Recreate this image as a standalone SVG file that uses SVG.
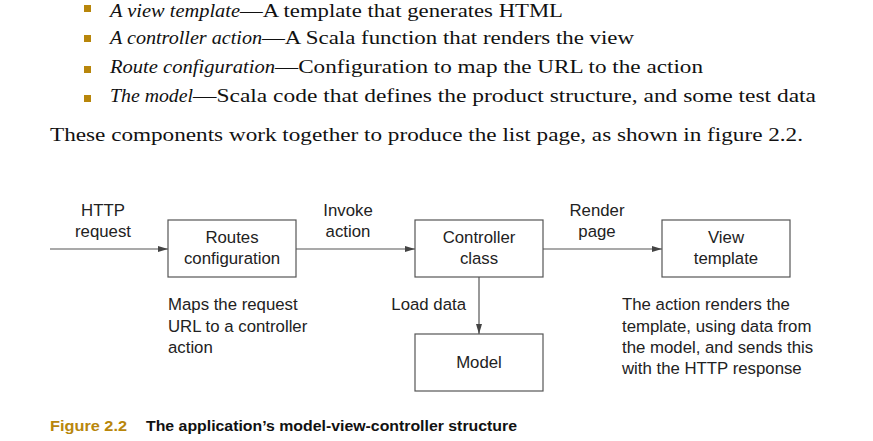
<svg xmlns="http://www.w3.org/2000/svg" width="873" height="441" viewBox="0 0 873 441">
<style>
.serif{font-family:"Liberation Serif","Times New Roman",serif;font-size:18px;fill:#111}
.it{font-style:italic}
.sans{font-family:"Liberation Sans",Arial,sans-serif;font-size:16.8px;fill:#222}
.box{fill:#fff;stroke:#555;stroke-width:1.2}
.conn{stroke:#555;stroke-width:1.2;fill:none}
.bul{fill:#b8860b}
.cap{font-family:"Liberation Sans",Arial,sans-serif;font-size:15px;font-weight:bold}
</style>
<defs>
<marker id="ah" viewBox="0 0 10 6" refX="10" refY="3" markerWidth="10" markerHeight="6" markerUnits="userSpaceOnUse" orient="auto">
<path d="M0,0 L10,3 L0,6 Z" fill="#444"/>
</marker>
</defs>
<rect width="873" height="441" fill="#fff"/>
<g id="intro">
<rect class="bul" x="84" y="5" width="7" height="7"/>
<rect class="bul" x="84" y="35" width="7" height="7"/>
<rect class="bul" x="84" y="66" width="7" height="7"/>
<rect class="bul" x="84" y="95" width="7" height="7"/>
<text class="serif it" x="110" y="16.5" textLength="130" lengthAdjust="spacingAndGlyphs">A view template</text>
<text class="serif" x="240" y="16.5" textLength="323" lengthAdjust="spacingAndGlyphs">—A template that generates HTML</text>
<text class="serif it" x="110" y="44" textLength="152" lengthAdjust="spacingAndGlyphs">A controller action</text>
<text class="serif" x="262" y="44" textLength="372" lengthAdjust="spacingAndGlyphs">—A Scala function that renders the view</text>
<text class="serif it" x="110" y="73" textLength="165" lengthAdjust="spacingAndGlyphs">Route configuration</text>
<text class="serif" x="275" y="73" textLength="428" lengthAdjust="spacingAndGlyphs">—Configuration to map the URL to the action</text>
<text class="serif it" x="110" y="102" textLength="83" lengthAdjust="spacingAndGlyphs">The model</text>
<text class="serif" x="193" y="102" textLength="623" lengthAdjust="spacingAndGlyphs">—Scala code that defines the product structure, and some test data</text>
<text class="serif" x="50" y="141" textLength="753" lengthAdjust="spacingAndGlyphs" style="font-size:19px">These components work together to produce the list page, as shown in figure 2.2.</text>
</g>
<g id="connectors">
<line class="conn" x1="50" y1="249" x2="168" y2="249" marker-end="url(#ah)"/>
<line class="conn" x1="296" y1="249" x2="415" y2="249" marker-end="url(#ah)"/>
<line class="conn" x1="543" y1="249" x2="662" y2="249" marker-end="url(#ah)"/>
<line class="conn" x1="479" y1="277" x2="479" y2="334" marker-end="url(#ah)"/>
<text class="sans" x="103" y="216" text-anchor="middle">HTTP</text>
<text class="sans" x="103" y="237" text-anchor="middle">request</text>
<text class="sans" x="348" y="216" text-anchor="middle">Invoke</text>
<text class="sans" x="348" y="237" text-anchor="middle">action</text>
<text class="sans" x="597" y="216" text-anchor="middle">Render</text>
<text class="sans" x="597" y="237" text-anchor="middle">page</text>
<text class="sans" x="466" y="310" text-anchor="end">Load data</text>
</g>
<g id="routes">
<rect class="box" x="168" y="220" width="128" height="57"/>
<text class="sans" x="232" y="243" text-anchor="middle">Routes</text>
<text class="sans" x="232" y="264" text-anchor="middle">configuration</text>
</g>
<g id="controller">
<rect class="box" x="415" y="220" width="128" height="57"/>
<text class="sans" x="479" y="243" text-anchor="middle">Controller</text>
<text class="sans" x="479" y="264" text-anchor="middle">class</text>
</g>
<g id="view">
<rect class="box" x="662" y="220" width="128" height="57"/>
<text class="sans" x="726" y="243" text-anchor="middle">View</text>
<text class="sans" x="726" y="264" text-anchor="middle">template</text>
</g>
<g id="model">
<rect class="box" x="415" y="334" width="128" height="57"/>
<text class="sans" x="479" y="368" text-anchor="middle">Model</text>
</g>
<g id="notes">
<text class="sans" x="168" y="310">Maps the request</text>
<text class="sans" x="168" y="332">URL to a controller</text>
<text class="sans" x="168" y="353">action</text>
<text class="sans" x="622" y="310">The action renders the</text>
<text class="sans" x="622" y="332">template, using data from</text>
<text class="sans" x="622" y="353">the model, and sends this</text>
<text class="sans" x="622" y="374">with the HTTP response</text>
</g>
<g id="caption">
<text class="cap" x="50" y="431" fill="#b8860b" textLength="77" lengthAdjust="spacingAndGlyphs">Figure 2.2</text>
<text class="cap" x="146" y="431" fill="#111" textLength="371" lengthAdjust="spacingAndGlyphs">The application’s model-view-controller structure</text>
</g>
</svg>
